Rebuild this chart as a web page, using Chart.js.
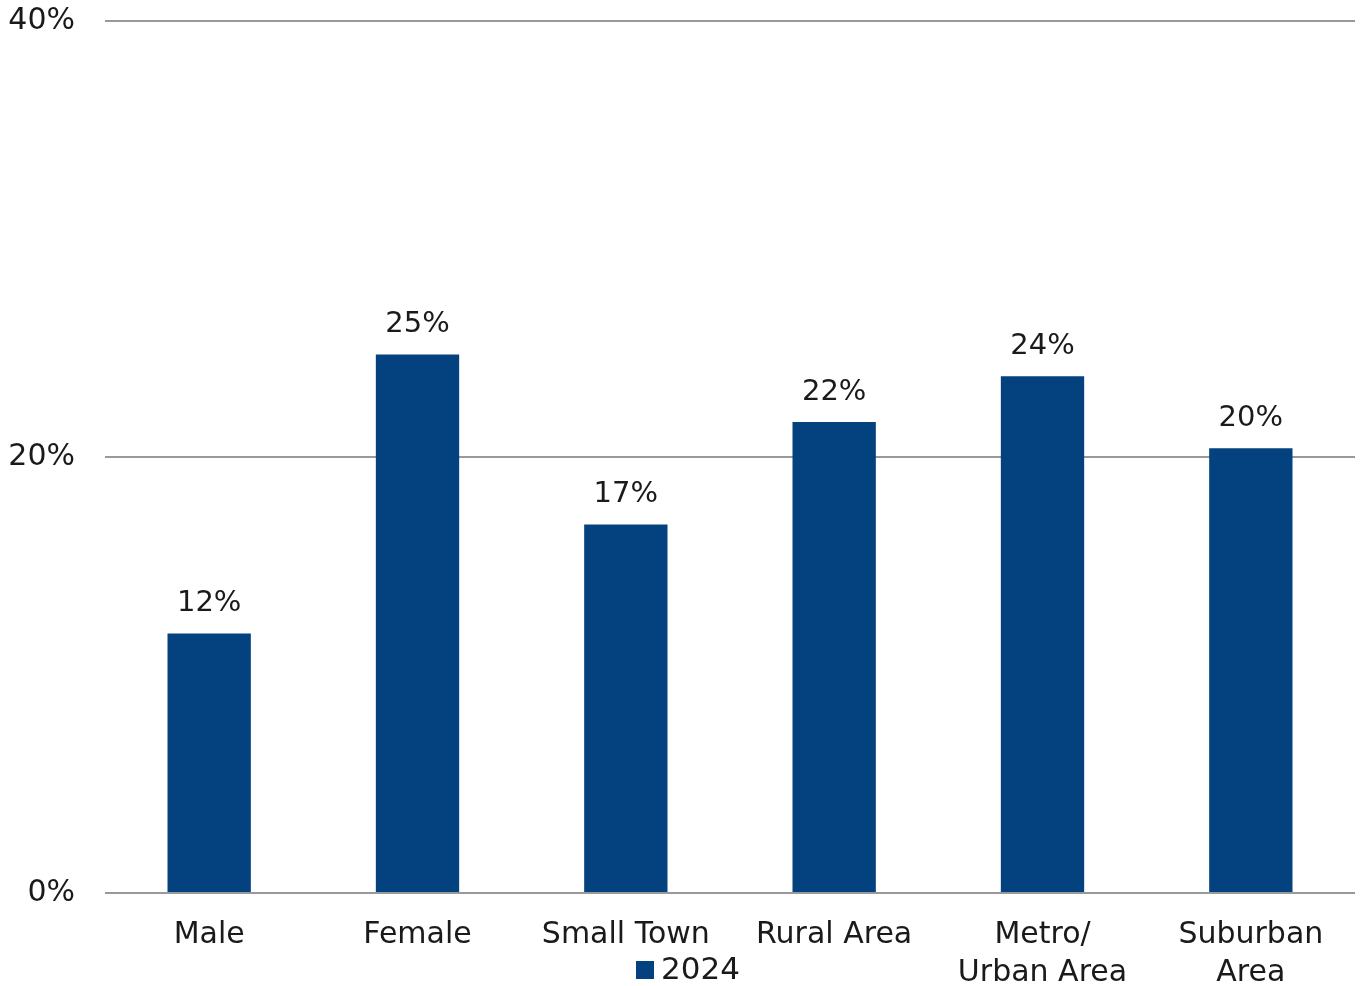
<!DOCTYPE html>
<html>
<head>
<meta charset="utf-8">
<script src="https://cdn.jsdelivr.net/npm/chart.js@4/dist/chart.umd.min.js"></script>
<style>
  html, body { margin: 0; padding: 0; background: #fff; }
  #wrap { width: 1363px; height: 986px; position: relative; }
</style>
</head>
<body>
<div id="wrap"><canvas id="c"></canvas></div>
<script>
const categories = ["Male", "Female", ["Small Town"], ["Rural Area"], ["Metro/", "Urban Area"], ["Suburban", "Area"]];
const seriesLabel = "2024";
const values = [11.9, 24.7, 16.9, 21.6, 23.7, 20.4];
const valueLabels = ["12%", "25%", "17%", "22%", "24%", "20%"];
const yTicks = [0, 20, 40];

const FONT = "'DejaVu Sans', sans-serif";
const BAR = "#03427F";
const TEXT = "#1a1a1a";

const labelPlugin = {
  id: 'valueLabels',
  afterDatasetsDraw(chart) {
    const ctx = chart.ctx;
    const meta = chart.getDatasetMeta(0);
    ctx.save();
    ctx.font = "29px " + FONT;
    ctx.fillStyle = TEXT;
    ctx.textAlign = "center";
    ctx.textBaseline = "middle";
    meta.data.forEach((bar, i) => {
      ctx.fillText(valueLabels[i], bar.x, bar.y - 30);
    });
    ctx.restore();
  }
};

const legendPlugin = {
  id: 'customLegend',
  afterDraw(chart) {
    const ctx = chart.ctx;
    ctx.save();
    ctx.font = "31px " + FONT;
    ctx.textBaseline = "middle";
    ctx.textAlign = "left";
    const cy = 970;
    const x0 = 636;
    ctx.fillStyle = BAR;
    ctx.fillRect(x0, cy - 9, 18, 18);
    ctx.fillStyle = TEXT;
    ctx.fillText(chart.data.datasets[0].label, x0 + 25, cy + 1);
    ctx.restore();
  }
};

new Chart(document.getElementById('c'), {
  type: 'bar',
  data: {
    labels: categories,
    datasets: [{
      label: seriesLabel,
      data: values,
      backgroundColor: BAR,
      borderWidth: 0,
      categoryPercentage: 1.0,
      barPercentage: 0.4
    }]
  },
  options: {
    responsive: true,
    maintainAspectRatio: false,
    animation: false,
    layout: { padding: { top: 0, right: 8, left: 0, bottom: 0 } },
    plugins: {
      legend: { display: false },
      tooltip: { enabled: false }
    },
    scales: {
      x: {
        grid: { display: false, drawTicks: false },
        border: { display: false },
        ticks: {
          color: TEXT,
          font: { family: FONT, size: 30, lineHeight: 1.27 },
          padding: 23,
          maxRotation: 0,
          autoSkip: false
        },
        afterFit(scale) { scale.height = 93; }
      },
      y: {
        min: 0,
        max: 40,
        afterBuildTicks(scale) { scale.ticks = yTicks.map(v => ({ value: v })); },
        grid: { color: "#999999", lineWidth: 2, drawTicks: false },
        border: { display: false },
        ticks: {
          color: TEXT,
          font: { family: FONT, size: 30 },
          padding: 30,
          callback: v => v + "%"
        },
        afterFit(scale) {
          scale.width = 105;
          scale.paddingTop = 21;
          scale.paddingBottom = 0;
        }
      }
    }
  },
  plugins: [labelPlugin, legendPlugin]
});
</script>
</body>
</html>
